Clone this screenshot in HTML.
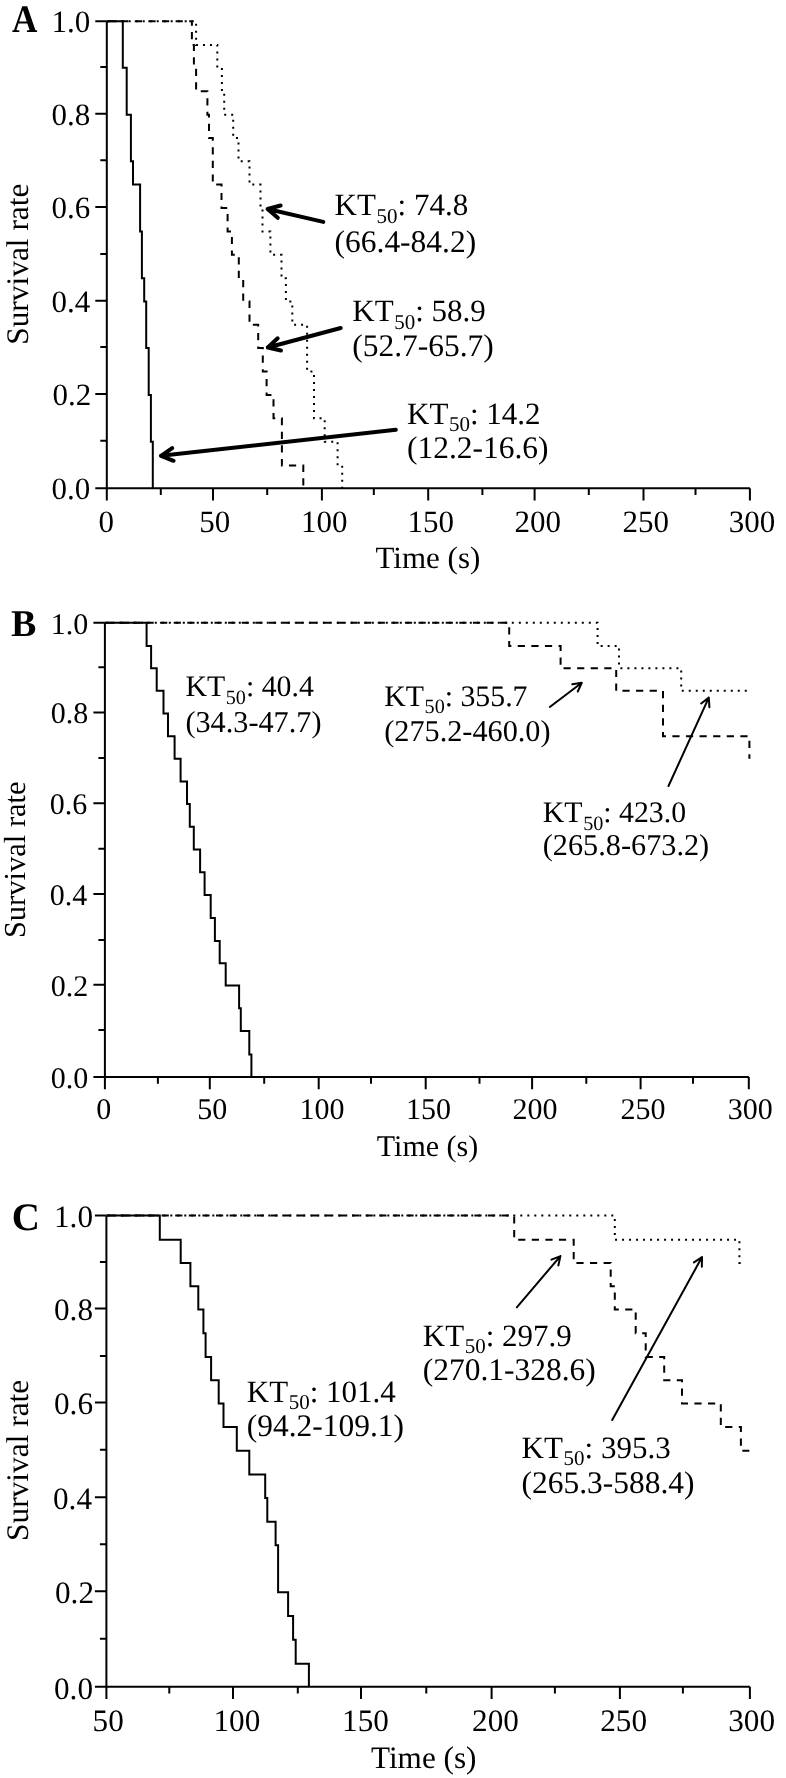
<!DOCTYPE html>
<html><head><meta charset="utf-8"><title>Survival curves</title>
<style>html,body{margin:0;padding:0;background:#fff;}svg{display:block;will-change:transform;}</style></head>
<body><svg width="786" height="1778" viewBox="0 0 786 1778" font-family='"Liberation Serif", serif' fill="#000" text-rendering="geometricPrecision">
<rect width="786" height="1778" fill="#fff"/>
<path d="M106.8 21.2V488.3 M106.8 488.3H749.9 M95.3 488.3H106.8 M100.3 440.8H106.8 M95.3 394.1H106.8 M100.3 347.1H106.8 M95.3 300.7H106.8 M100.3 253.9H106.8 M95.3 207.1H106.8 M100.3 160.3H106.8 M95.3 113.8H106.8 M100.3 66.9H106.8 M95.3 21.2H106.8 M106.8 488.3V500.6 M160.8 488.3V495.1 M213 488.3V500.6 M267.2 488.3V495.1 M321.9 488.3V500.6 M373.8 488.3V495.1 M428.2 488.3V500.6 M482.4 488.3V495.1 M534.6 488.3V500.6 M588.8 488.3V495.1 M643.5 488.3V500.6 M695.5 488.3V495.1 M749.9 488.3V500.6" stroke="#000" stroke-width="2.0" fill="none"/>
<path d="M106.8 21.2H196.1V44.95H217.3V67.8H221.9V91.25H224.2V114.7H233.2V137.95H238.5V161.2H249.5V184.6H260.5V208H262.5V231.4H270.4V254.8H281.5V278.2H285.9V301.6H292.3V324.8H307.1V371.5H314V418.35H324.7V441.7H337.6V465.45H342.2V488.3" stroke="#000" stroke-width="2.0" fill="none" stroke-dasharray="2 5" stroke-dashoffset="-0.9"/>
<path d="M106.8 21.2H191.9V44.95H193.9V67.8H196.1V91.25H207.4V114.7H209V137.95H212.8V184.6H221.5V208H227.6V231.4H231.9V254.8H238.8V278.2H243.2V301.6H249.5V324.8H258.2V348H262.8V371.5H266.6V395H273.5V418.35H281.9V465.45H303.3V488.3" stroke="#000" stroke-width="2.0" fill="none" stroke-dasharray="7.2 6.4" stroke-dashoffset="-0.8"/>
<path d="M106.8 21.2H122.8V67.8H126.7V114.7H130.9V161.2H133V184.6H140.1V231.4H141.9V278.2H144.2V301.6H146.2V348H148.7V395H150.9V441.7H152.8V488.3" stroke="#000" stroke-width="2.0" fill="none"/>
<path d="M323.3 221.9L267.6 209M277.78 217.86L267.6 209L280.64 205.51" stroke="#000" stroke-width="4.0" fill="none" stroke-linecap="round" stroke-linejoin="round"/>
<path d="M340.7 328L267.8 347.5M280.95 350.54L267.8 347.5L277.68 338.3" stroke="#000" stroke-width="4.0" fill="none" stroke-linecap="round" stroke-linejoin="round"/>
<path d="M395.8 429.8L161 455.8M173.54 460.79L161 455.8L172.15 448.19" stroke="#000" stroke-width="4.0" fill="none" stroke-linecap="round" stroke-linejoin="round"/>
<path d="M104.9 622.8V1076.9 M104.9 1076.9H748.8 M93.4 1076.9H104.9 M98.4 1030.1H104.9 M93.4 984.7H104.9 M98.4 940.1H104.9 M93.4 894.1H104.9 M98.4 848.7H104.9 M93.4 803.2H104.9 M98.4 757.9H104.9 M93.4 712.6H104.9 M98.4 667.3H104.9 M93.4 622.8H104.9 M104.9 1076.9V1089.2 M157.9 1076.9V1083.7 M209.8 1076.9V1089.2 M264.2 1076.9V1083.7 M318.7 1076.9V1089.2 M371 1076.9V1083.7 M425.7 1076.9V1089.2 M479.5 1076.9V1083.7 M532.1 1076.9V1089.2 M586.3 1076.9V1083.7 M640.6 1076.9V1089.2 M693 1076.9V1083.7 M748.8 1076.9V1089.2" stroke="#000" stroke-width="2.0" fill="none"/>
<path d="M104.9 622.8H597.6V645.95H619V668.2H681.2V690.85H747.8" stroke="#000" stroke-width="2.0" fill="none" stroke-dasharray="2 5" stroke-dashoffset="-0.9"/>
<path d="M104.9 622.8H509.2V645.95H560.6V668.2H616.2V690.85H663V736.15H749.4V758.8" stroke="#000" stroke-width="2.0" fill="none" stroke-dasharray="7.2 6.4" stroke-dashoffset="-0.8"/>
<path d="M104.9 622.8H146.6V645.95H151.1V668.2H156.7V690.85H163.5V713.5H168V736.15H174.6V758.8H180.6V781.45H187V804.1H189.8V826.85H193.8V849.6H200.1V872.3H204.6V895H210.7V918H214.9V941H219.7V963.3H225.7V985.6H239.1V1008.3H240.8V1031H249.3V1054.4H251.4V1076.9" stroke="#000" stroke-width="2.0" fill="none"/>
<path d="M549.8 707L581.8 682.8M572.32 684.32L581.8 682.8L577.76 691.51" stroke="#000" stroke-width="2.0" fill="none" stroke-linecap="round" stroke-linejoin="round"/>
<path d="M668.5 786L708.8 697.6M701.18 703.44L708.8 697.6L709.38 707.18" stroke="#000" stroke-width="2.0" fill="none" stroke-linecap="round" stroke-linejoin="round"/>
<path d="M106.4 1215.4V1686.8 M106.4 1686.8H749.9 M94.9 1686.8H106.4 M99.9 1638.8H106.4 M94.9 1591.3H106.4 M99.9 1544.3H106.4 M94.9 1497.2H106.4 M99.9 1449.8H106.4 M94.9 1402.5H106.4 M99.9 1356.1H106.4 M94.9 1308.5H106.4 M99.9 1262.1H106.4 M94.9 1215.4H106.4 M106.4 1686.8V1699.1 M169.3 1686.8V1693.6 M233 1686.8V1699.1 M297.8 1686.8V1693.6 M361 1686.8V1699.1 M426.3 1686.8V1693.6 M491.6 1686.8V1699.1 M554.9 1686.8V1693.6 M619.9 1686.8V1699.1 M682.9 1686.8V1693.6 M749.9 1686.8V1699.1" stroke="#000" stroke-width="2.0" fill="none"/>
<path d="M106.4 1215.4H614.8V1239.65H739.4V1263H745.4" stroke="#000" stroke-width="2.0" fill="none" stroke-dasharray="2 5" stroke-dashoffset="-0.9"/>
<path d="M106.4 1215.4H514.2V1239.65H573.7V1263H610.7V1286.2H614.8V1309.4H635.7V1333.2H645.7V1357H664.2V1380.2H682V1403.4H720.8V1427.05H740.9V1450.7H749.3" stroke="#000" stroke-width="2.0" fill="none" stroke-dasharray="7.2 6.4" stroke-dashoffset="-0.8"/>
<path d="M106.4 1215.4H159.8V1239.65H180.7V1263H190.4V1286.2H198.3V1309.4H203.4V1333.2H205.6V1357H211.1V1380.2H218.7V1403.4H223.5V1427.05H236.8V1450.7H249.3V1474.4H265.2V1498.1H267.3V1521.65H275.6V1545.2H278.1V1592.2H288.1V1615.95H293.1V1639.7H295.7V1663.7H308.9V1686.8" stroke="#000" stroke-width="2.0" fill="none"/>
<path d="M516.8 1307.3L560.4 1256.1M551.47 1259.63L560.4 1256.1L558.34 1265.48" stroke="#000" stroke-width="2.0" fill="none" stroke-linecap="round" stroke-linejoin="round"/>
<path d="M612.2 1420L702 1257.1M693.96 1262.35L702 1257.1L701.85 1266.7" stroke="#000" stroke-width="2.0" fill="none" stroke-linecap="round" stroke-linejoin="round"/>
<text x="51.6" y="499.3" font-size="31">0.0</text>
<text x="52.6" y="405.1" font-size="31">0.2</text>
<text x="51.6" y="311.7" font-size="31">0.4</text>
<text x="51.6" y="218.1" font-size="31">0.6</text>
<text x="51.6" y="124.8" font-size="31">0.8</text>
<text x="51.6" y="32.2" font-size="31">1.0</text>
<text x="98.4" y="532" font-size="31">0</text>
<text x="199.3" y="532" font-size="31">50</text>
<text x="300.9" y="532" font-size="31">100</text>
<text x="407.6" y="532" font-size="31">150</text>
<text x="514.5" y="532" font-size="31">200</text>
<text x="622.6" y="532" font-size="31">250</text>
<text x="728.7" y="532" font-size="31">300</text>
<text x="334.6" y="215.2" font-size="31">KT<tspan font-size="21.0" dx="0.62" dy="7.5">50</tspan><tspan dy="-7.5">: 74.8</tspan></text>
<text x="334.6" y="252" font-size="31.46">(66.4-84.2)</text>
<text x="352.3" y="321.2" font-size="31">KT<tspan font-size="21.0" dx="0.62" dy="7.5">50</tspan><tspan dy="-7.5">: 58.9</tspan></text>
<text x="352.3" y="356.2" font-size="31.46">(52.7-65.7)</text>
<text x="407" y="423.5" font-size="31">KT<tspan font-size="21.0" dx="0.62" dy="7.5">50</tspan><tspan dy="-7.5">: 14.2</tspan></text>
<text x="407" y="457.8" font-size="31.46">(12.2-16.6)</text>
<text x="375.5" y="568.1" font-size="31">Time (s)</text>
<text transform="translate(11.9 32) scale(0.9 1)" font-size="39" font-weight="bold">A</text>
<text transform="translate(27.6 263.8) rotate(-90)" x="-81" y="0" font-size="31.4">Survival rate</text>
<text x="50.8" y="1087.7" font-size="30">0.0</text>
<text x="50.8" y="995.5" font-size="30">0.2</text>
<text x="49.8" y="904.9" font-size="30">0.4</text>
<text x="49.8" y="814" font-size="30">0.6</text>
<text x="50.8" y="723.4" font-size="30">0.8</text>
<text x="50.8" y="633.6" font-size="30">1.0</text>
<text x="96.3" y="1119.4" font-size="30">0</text>
<text x="197.3" y="1119.4" font-size="30">50</text>
<text x="299.4" y="1119.4" font-size="30">100</text>
<text x="406" y="1119.4" font-size="30">150</text>
<text x="512.6" y="1119.4" font-size="30">200</text>
<text x="620.6" y="1119.4" font-size="30">250</text>
<text x="727.8" y="1119.4" font-size="30">300</text>
<text x="185.4" y="696.3" font-size="29.8">KT<tspan font-size="20.2" dx="0.6" dy="7.21">50</tspan><tspan dy="-7.21">: 40.4</tspan></text>
<text x="185.4" y="731.8" font-size="30.25">(34.3-47.7)</text>
<text x="384.2" y="705.8" font-size="29.8">KT<tspan font-size="20.2" dx="0.6" dy="7.21">50</tspan><tspan dy="-7.21">: 355.7</tspan></text>
<text x="384.2" y="740.6" font-size="30.25">(275.2-460.0)</text>
<text x="542.8" y="822.3" font-size="29.8">KT<tspan font-size="20.2" dx="0.6" dy="7.21">50</tspan><tspan dy="-7.21">: 423.0</tspan></text>
<text x="542.8" y="855.2" font-size="30.25">(265.8-673.2)</text>
<text x="376.8" y="1156" font-size="30">Time (s)</text>
<text x="10.9" y="635.9" font-size="38" font-weight="bold">B</text>
<text transform="translate(25.2 859.1) rotate(-90)" x="-79" y="0" font-size="30.5">Survival rate</text>
<text x="54" y="1698.6" font-size="31.2">0.0</text>
<text x="55" y="1603.1" font-size="31.2">0.2</text>
<text x="53" y="1509" font-size="31.2">0.4</text>
<text x="54" y="1414.3" font-size="31.2">0.6</text>
<text x="54" y="1320.3" font-size="31.2">0.8</text>
<text x="54" y="1227.2" font-size="31.2">1.0</text>
<text x="92.6" y="1731.1" font-size="31.2">50</text>
<text x="213.5" y="1731.1" font-size="31.2">100</text>
<text x="342.1" y="1731.1" font-size="31.2">150</text>
<text x="472.1" y="1731.1" font-size="31.2">200</text>
<text x="600.2" y="1731.1" font-size="31.2">250</text>
<text x="728.2" y="1731.1" font-size="31.2">300</text>
<text x="246.8" y="1401.8" font-size="31">KT<tspan font-size="21.0" dx="0.62" dy="7.5">50</tspan><tspan dy="-7.5">: 101.4</tspan></text>
<text x="246.8" y="1436.3" font-size="31.46">(94.2-109.1)</text>
<text x="422.8" y="1345.6" font-size="31">KT<tspan font-size="21.0" dx="0.62" dy="7.5">50</tspan><tspan dy="-7.5">: 297.9</tspan></text>
<text x="422.8" y="1380.3" font-size="31.46">(270.1-328.6)</text>
<text x="521.6" y="1457.6" font-size="31">KT<tspan font-size="21.0" dx="0.62" dy="7.5">50</tspan><tspan dy="-7.5">: 395.3</tspan></text>
<text x="521.6" y="1493" font-size="31.46">(265.3-588.4)</text>
<text x="371" y="1768" font-size="31.2">Time (s)</text>
<text x="11.7" y="1230.3" font-size="39" font-weight="bold">C</text>
<text transform="translate(27.8 1460) rotate(-90)" x="-81" y="0" font-size="31.4">Survival rate</text>
</svg></body></html>
